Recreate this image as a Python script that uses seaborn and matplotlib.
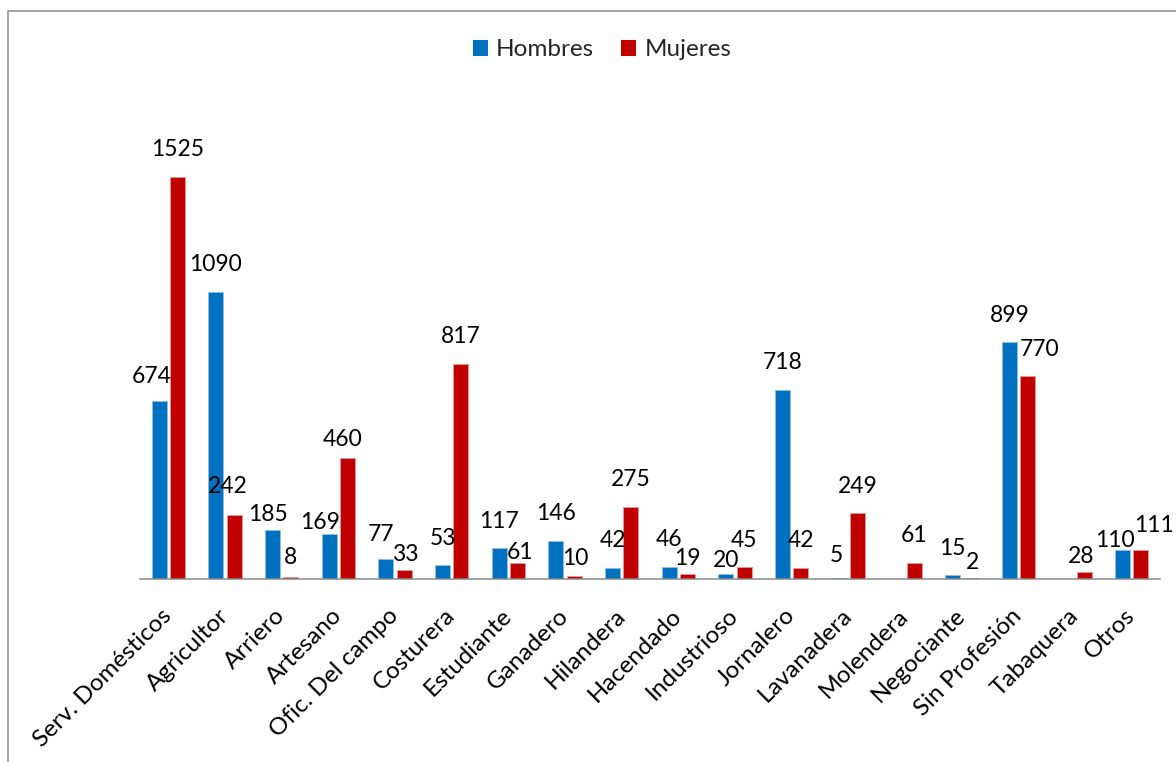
import numpy as np
import pandas as pd
import matplotlib
matplotlib.use("Agg")
import matplotlib.pyplot as plt
from matplotlib.patches import Rectangle, Patch
import seaborn as sns

# Occupations and counts by sex
categories = [
    "Serv. Domésticos", "Agricultor", "Arriero", "Artesano", "Ofic. Del campo",
    "Costurera", "Estudiante", "Ganadero", "Hilandera", "Hacendado",
    "Industrioso", "Jornalero", "Lavanadera", "Molendera", "Negociante",
    "Sin Profesión", "Tabaquera", "Otros",
]
hombres = [674, 1090, 185, 169, 77, 53, 117, 146, 42, 46, 20, 718, 5,
           np.nan, 15, 899, np.nan, 110]
mujeres = [1525, 242, 8, 460, 33, 817, 61, 10, 275, 19, 45, 42, 249,
           61, 2, 770, 28, 111]
series = ["Hombres", "Mujeres"]
colors = ["#0070C0", "#C00000"]
edge_colors = ["#8fbde6", "#e89a9a"]

df = pd.DataFrame({
    "Profesión": categories * 2,
    "Sexo": [series[0]] * len(categories) + [series[1]] * len(categories),
    "Total": hombres + mujeres,
})

sns.set_theme(style="white")
plt.rcParams["font.family"] = ["Lato", "DejaVu Sans"]

W, H = 1176, 762
fig = plt.figure(figsize=(W / 100, H / 100), dpi=100)
ax = fig.add_axes([140 / W, (H - 579) / H, 1020 / W, (579 - 104.5) / H])

sns.barplot(data=df, x="Profesión", y="Total", hue="Sexo", order=categories,
            hue_order=series, palette=colors, saturation=1, width=0.64,
            gap=0.17, errorbar=None, legend=False, ax=ax)

# thin light outline on the bars
for si, cont in enumerate(ax.containers):
    for bar in cont:
        bar.set_edgecolor(edge_colors[si])
        bar.set_linewidth(0.6)

ax.set_xlim(-0.5, len(categories) - 0.5)
ax.set_ylim(0, 1800)
ax.set_xlabel("")
ax.set_ylabel("")
ax.set_yticks([])
for side in ["left", "right", "top"]:
    ax.spines[side].set_visible(False)
ax.spines["bottom"].set_color("#8a8a8a")
ax.spines["bottom"].set_linewidth(1.1)
ax.spines["bottom"].set_zorder(5)

ax.tick_params(axis="x", length=0, pad=24, labelsize=17.5, colors="black")
for lbl in ax.get_xticklabels():
    lbl.set_rotation(45)
    lbl.set_ha("right")
    lbl.set_va("center")
    lbl.set_rotation_mode("anchor")

# Value labels above bars; some are shifted to keep them readable
label_shift = {
    ("Hombres", "Serv. Domésticos"): (-8, 23),
    ("Hombres", "Arriero"): (-5, 14),
    ("Hombres", "Artesano"): (-9, 10),
    ("Hombres", "Ofic. Del campo"): (-5, 22),
    ("Hombres", "Industrioso"): (0, 11),
    ("Hombres", "Lavanadera"): (-3, 20),
    ("Hombres", "Otros"): (-8, 8),
    ("Mujeres", "Agricultor"): (-6, 27),
    ("Mujeres", "Arriero"): (0, 17),
    ("Mujeres", "Artesano"): (-5, 16),
    ("Mujeres", "Ofic. Del campo"): (1, 14),
    ("Mujeres", "Estudiante"): (3, 8),
    ("Mujeres", "Ganadero"): (1, 16),
    ("Mujeres", "Hacendado"): (0, 13),
    ("Mujeres", "Negociante"): (2, 14),
    ("Mujeres", "Sin Profesión"): (12, 25),
    ("Mujeres", "Tabaquera"): (-3, 13),
    ("Mujeres", "Otros"): (13, 22),
}
values_by_series = [hombres, mujeres]
for si, cont in enumerate(ax.containers):
    vals = values_by_series[si]
    for bar in cont:
        xc = bar.get_x() + bar.get_width() / 2
        ci = int(round(xc))
        v = vals[ci]
        if v is None or np.isnan(v):
            continue
        dx, dy = label_shift.get((series[si], categories[ci]), (0, 25))
        ax.annotate(f"{v:.0f}", xy=(xc, v), xytext=(dx, dy + 2),
                    textcoords="offset pixels", ha="center", va="center",
                    fontsize=16.5, color="black")

handles = [Patch(facecolor=c, edgecolor="none") for c in colors]
fig.legend(handles, series, loc="center", bbox_to_anchor=(602 / W, 1 - 50 / H),
           ncol=2, frameon=False, fontsize=17.5, handlelength=0.62,
           handleheight=0.62, handletextpad=0.35, columnspacing=1.1)

# Chart frame
fig.add_artist(Rectangle((8 / W, -0.1), 1.2, (H - 11) / H + 0.1,
                         transform=fig.transFigure, fill=False,
                         edgecolor="#8c8c8c", linewidth=1.1))

fig.savefig("out.png", dpi=100)
